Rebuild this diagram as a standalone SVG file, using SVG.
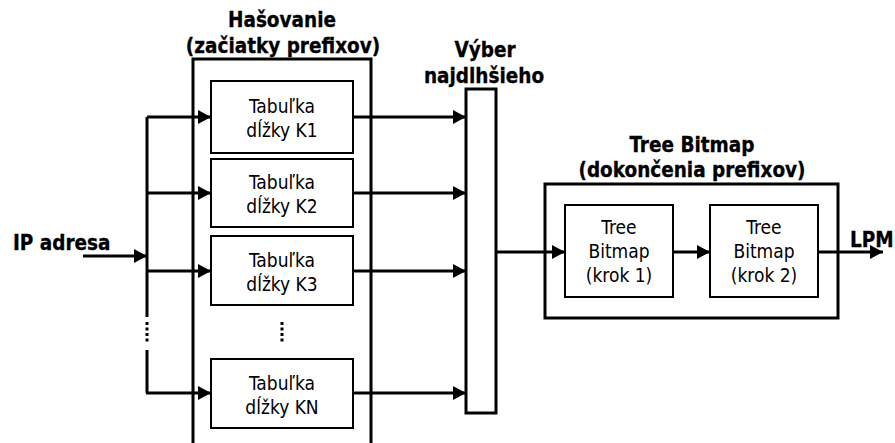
<svg xmlns="http://www.w3.org/2000/svg" width="895" height="443" viewBox="0 0 895 443">
<defs>
<style>
.frame{fill:none;stroke:#000;stroke-width:3}
.box{fill:#fff;stroke:#000;stroke-width:2}
.ln{fill:none;stroke:#000;stroke-width:3}
.dot{fill:none;stroke:#000;stroke-width:3;stroke-dasharray:3 2.5}
.t{font-family:"DejaVu Sans Condensed","DejaVu Sans",sans-serif;font-stretch:condensed;font-size:19px;text-anchor:middle;fill:#000}
.b{font-family:"DejaVu Sans Condensed","DejaVu Sans",sans-serif;font-stretch:condensed;font-weight:bold;font-size:20.5px;text-anchor:middle;fill:#000;stroke:#000;stroke-width:0.3}
</style>
<marker id="ah" markerWidth="13" markerHeight="14" refX="13" refY="7" orient="auto" markerUnits="userSpaceOnUse">
<path d="M0,0 L13,7 L0,14 Z" fill="#000"/>
</marker>
</defs>
<rect width="895" height="443" fill="#fff"/>

<g id="hasovanie">
<rect class="frame" x="193" y="59" width="178" height="390"/>
<text class="b" x="282" y="27">Hašovanie</text>
<text class="b" x="283" y="53">(začiatky prefixov)</text>
</g>

<g id="k1">
<rect class="box" x="211" y="81" width="142" height="72"/>
<text class="t" x="282" y="113">Tabuľka</text>
<text class="t" x="282" y="137">dĺžky K1</text>
</g>
<g id="k2">
<rect class="box" x="211" y="159" width="142" height="68"/>
<text class="t" x="282" y="189">Tabuľka</text>
<text class="t" x="282" y="213">dĺžky K2</text>
</g>
<g id="k3">
<rect class="box" x="211" y="236" width="142" height="69"/>
<text class="t" x="282" y="267">Tabuľka</text>
<text class="t" x="282" y="291">dĺžky K3</text>
</g>
<g id="dots-mid">
<line class="dot" x1="282" y1="322" x2="282" y2="344"/>
</g>
<g id="kn">
<rect class="box" x="211" y="359" width="142" height="69"/>
<text class="t" x="282" y="390">Tabuľka</text>
<text class="t" x="282" y="414">dĺžky KN</text>
</g>

<g id="vyber">
<rect class="frame" x="466" y="89" width="30" height="324"/>
<text class="b" x="485" y="57">Výber</text>
<text class="b" x="484" y="83">najdlhšieho</text>
</g>

<g id="treebitmap">
<rect class="frame" x="545" y="184" width="293" height="134"/>
<text class="b" x="692" y="152">Tree Bitmap</text>
<text class="b" x="692" y="177">(dokončenia prefixov)</text>
</g>
<g id="tb1">
<rect class="box" x="565" y="205" width="108" height="92"/>
<text class="t" x="619" y="234">Tree</text>
<text class="t" x="619" y="258">Bitmap</text>
<text class="t" x="619" y="282">(krok 1)</text>
</g>
<g id="tb2">
<rect class="box" x="710" y="205" width="108" height="92"/>
<text class="t" x="764" y="234">Tree</text>
<text class="t" x="764" y="258">Bitmap</text>
<text class="t" x="764" y="282">(krok 2)</text>
</g>

<g id="labels">
<text class="b" x="13" y="250" style="text-anchor:start">IP adresa</text>
<text class="b" x="850" y="247" style="text-anchor:start">LPM</text>
</g>

<g id="connectors">
<line class="ln" x1="83" y1="256" x2="147" y2="256" marker-end="url(#ah)"/>
<polyline class="ln" points="147,117 147,317"/>
<line class="dot" x1="147" y1="322" x2="147" y2="344"/>
<polyline class="ln" points="147,350 147,393"/>
<line class="ln" x1="147" y1="117" x2="211" y2="117" marker-end="url(#ah)"/>
<line class="ln" x1="147" y1="193" x2="211" y2="193" marker-end="url(#ah)"/>
<line class="ln" x1="147" y1="271" x2="211" y2="271" marker-end="url(#ah)"/>
<line class="ln" x1="146" y1="393" x2="211" y2="393" marker-end="url(#ah)"/>
<line class="ln" x1="353" y1="117" x2="466" y2="117" marker-end="url(#ah)"/>
<line class="ln" x1="353" y1="193" x2="466" y2="193" marker-end="url(#ah)"/>
<line class="ln" x1="353" y1="271" x2="466" y2="271" marker-end="url(#ah)"/>
<line class="ln" x1="353" y1="393" x2="466" y2="393" marker-end="url(#ah)"/>
<line class="ln" x1="496" y1="252" x2="565" y2="252" marker-end="url(#ah)"/>
<line class="ln" x1="673" y1="252" x2="710" y2="252" marker-end="url(#ah)"/>
<line class="ln" x1="818" y1="252" x2="883" y2="252" marker-end="url(#ah)"/>
</g>
</svg>
